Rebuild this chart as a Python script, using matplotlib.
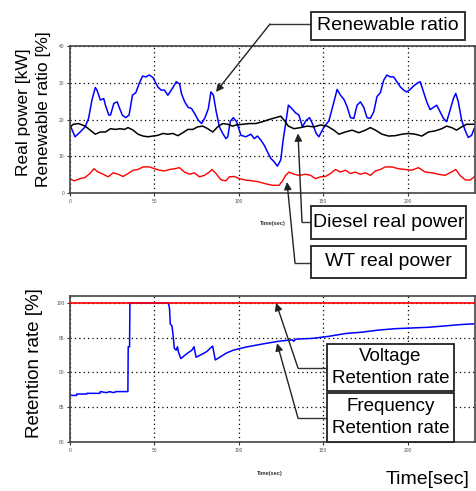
import matplotlib
matplotlib.use("Agg")
import matplotlib.pyplot as plt
from matplotlib.patches import Rectangle
from matplotlib.lines import Line2D

plt.rcParams['font.family'] = ['Liberation Sans', 'DejaVu Sans']

W, H = 476, 491

# top chart: renewable ratio (blue), diesel power (black), WT power (red)
ren_t = [0, 3, 6, 9, 11, 13, 15, 16, 18, 20, 21, 23, 24, 26, 28, 29, 31, 33, 35, 37,
         39, 41, 43, 45, 47, 49, 50, 52, 54, 56, 58, 60, 61, 63, 65, 66, 68, 70, 72, 74,
         76, 78, 80, 82, 83.5, 85, 86.5, 88.5, 90.5, 92.4, 93.5, 95, 96.8, 98.7, 101.3,
         104.2, 107.2, 109.2, 111.1, 113.1, 115.1, 117, 119, 121, 122.9, 124.9, 126.3,
         127.8, 129.4, 131.4, 133.7, 135.7, 137.7, 140, 142, 144, 145.9, 147.5, 149.5,
         151.4, 153.4, 156.4, 158.3, 160.3, 162.3, 164.2, 166.2, 168.2, 170.1, 172.1,
         174.1, 176, 178, 180, 181.9, 183.9, 185.9, 187.8, 189.8, 191.8, 193.7, 195.7,
         197.7, 199.6, 201.6, 203.6, 205.5, 207.5, 209.5, 211.4, 213.4, 215.4, 217.3,
         219.3, 221.3, 223.2, 225.2, 227.2, 228.6, 230.1, 232.1, 234.1, 236, 238, 239.5]
ren_v = [18.5, 15.3, 16.6, 18, 20.3, 25.3, 28.7, 28, 25.3, 25.7, 23.9, 21.2, 21.2, 24.4,
         24.8, 23.5, 21.2, 20.5, 21.2, 26.6, 27.3, 29.8, 31.8, 31.6, 32.1, 31.5, 30.7,
         28.9, 28, 28, 26.6, 28, 28.7, 30.3, 29.6, 27.1, 24.8, 23.3, 23, 21.5, 19.8, 18.9,
         20.5, 23, 27.5, 26.6, 22.5, 18, 16.2, 14.8, 15.3, 19.5, 20.5, 19.4, 15.7, 15.3,
         16, 14.8, 15.5, 14.4, 13, 11.2, 9.4, 8.5, 7.3, 9, 14.4, 18.9, 23.9, 23, 21.8,
         21.2, 18, 19.8, 20.5, 18.5, 16.2, 15.3, 17.1, 18.5, 19.6, 24.8, 28.2, 26.6, 25.5,
         23.5, 20.5, 20.3, 23.9, 24.8, 23.3, 20.5, 20.3, 22.1, 26.2, 27.3, 30.7, 32.1,
         31.6, 31.6, 30.3, 28.9, 28, 27.5, 28.2, 29.1, 29.8, 30.3, 27.5, 24.8, 22.7, 23.3,
         23.9, 22.1, 20.3, 19.4, 22.5, 25.7, 27.1, 24.8, 19.8, 17.1, 15.1, 15.7, 17.5]

die_t = [0, 2, 5, 9, 12, 15, 18, 21, 24, 27, 29.5, 32.4, 34.4, 37.4, 40.3, 43.3, 46.2,
         49.2, 52.1, 55.1, 58, 61, 63.9, 66.9, 69.8, 72.8, 75.7, 78.7, 81.6, 84.6, 87.5,
         90.5, 93.4, 96.4, 98.3, 102.3, 106.2, 110.1, 114.1, 118, 121.9, 124.9, 126.9,
         129.4, 132.8, 136.7, 140.6, 144.6, 148.5, 152.4, 156.4, 159.3, 163.2, 167.2,
         171.1, 175.1, 178, 181, 184.9, 188.8, 192.8, 196.7, 200.6, 204.6, 208.5, 212.4,
         216.4, 220.3, 223.2, 226.2, 229.1, 232.1, 235, 239.5]
die_v = [18, 18.7, 18.9, 18.2, 17.1, 16, 16.6, 16.6, 17.5, 17.3, 17.5, 17.3, 17.8, 17.1,
         16, 15.5, 15.3, 15.5, 15.7, 16.2, 16, 16.2, 15.6, 16.4, 17.3, 17.3, 18, 18.2,
         17.5, 16.6, 18, 18.9, 18.7, 18.2, 18.5, 18.7, 18.9, 18.9, 19.4, 20, 20.5, 20.9,
         19.8, 18.2, 17.5, 17.8, 18.2, 18, 18.5, 18.2, 17.1, 16, 16.6, 17.1, 16.4, 17.1,
         17.8, 17.1, 16, 15.5, 15.6, 16, 16.2, 16, 15.5, 16.6, 16.9, 17.5, 18.2, 17.8,
         17.1, 18, 18.7, 18.7]

wt_t = [0, 2.4, 5.9, 8.8, 11.8, 14.2, 16.7, 19.7, 22.6, 25.6, 28.5, 31.5, 34.4, 37.4,
        40.3, 43.3, 47.2, 50.1, 53.1, 56, 59, 61.9, 64.9, 67.8, 70.8, 73.7, 76.7, 79.6,
        82.6, 84.1, 86.5, 89.4, 92.4, 94.4, 97.4, 100.3, 104.2, 108.2, 112.1, 116, 120,
        123.9, 125.9, 127.8, 129.8, 132.8, 135.7, 139.6, 142.6, 145.5, 148.5, 151.4,
        154.4, 157.3, 160.3, 163.2, 166.2, 169.1, 172.1, 175.1, 178, 181, 183.9, 186.9,
        190.8, 194.7, 198.7, 202.6, 206.5, 210.4, 214.4, 218.3, 222.2, 225.2, 228.6,
        231.1, 234.1, 237, 239.6]
wt_v = [3.9, 3.3, 3.9, 4.2, 5.3, 6.6, 5.7, 5.1, 4.4, 5.5, 5.1, 4.5, 5.3, 6.2, 6.4, 7.1,
        7.1, 6.6, 6.2, 6, 6.4, 6.6, 6.9, 5.7, 5.1, 5.5, 4.4, 4.8, 5.7, 6.4, 5.3, 3.6, 3.3,
        4.4, 4.5, 3.9, 3.5, 3.3, 3, 2.5, 2.1, 2.1, 3.3, 4.8, 5.7, 5.1, 4.8, 5.1, 4.8, 3.9,
        4.4, 4.5, 5.3, 6.4, 5.7, 6.2, 5.3, 5.7, 5.1, 5.5, 4.8, 6, 6.4, 7.1, 7.1, 6.6, 6.4,
        6.2, 6.9, 5.7, 5.5, 5.1, 4.8, 5.5, 6.4, 4.8, 3.6, 3.5, 4.4]

# bottom chart: voltage (red) and frequency (blue) retention rate
volt_t = [0, 240]
volt_v = [100, 100]
freq_t = [0, 3.9, 4, 9.8, 10, 17.7, 18, 21.6, 23.6, 25.5, 27.5, 34.3, 34.5, 35.3, 35.5,
          58.4, 59, 59.4, 60.4, 61, 61.8, 62.9, 63.7, 64.3, 65.7, 69.2, 72.2, 73.5, 74.7,
          78, 81, 84.5, 86.1, 88.8, 92.7, 96.7, 100, 104.2, 114.1, 123.9, 131.8, 132.5,
          134, 143.6, 153.4, 163.2, 173.1, 182.9, 192.8, 202.6, 212.4, 222.3, 232.1, 240]
freq_v = [86.7, 86.7, 86.9, 86.9, 87.0, 87.0, 87.25, 87.1, 87.25, 87.1, 87.25, 87.25,
          93.7, 93.7, 100, 100, 99.1, 97, 96.7, 95.6, 93.5, 93.2, 93.7, 92.9, 92, 92.7,
          93.2, 93.7, 92.2, 92.6, 93, 93.8, 91.8, 92.2, 92.8, 93.2, 93.4, 93.65, 94.1,
          94.5, 94.7, 94.5, 94.8, 94.9, 95.2, 95.6, 95.8, 96.1, 96.3, 96.4, 96.5, 96.7,
          96.9, 97]

top_yticks = [0, 10, 20, 30, 40]
bot_yticks = [80, 85, 90, 95, 100]
xticks = [0, 50, 100, 150, 200]


def fx(x):
    return x / W


def fy(y):
    return 1 - y / H


fig = plt.figure(figsize=(W / 100, H / 100), dpi=100)
ax1 = fig.add_axes([fx(70), fy(193), (475 - 70) / W, (193 - 46) / H])
ax2 = fig.add_axes([fx(70), fy(442), (475 - 70) / W, (442 - 296) / H])

ax1.plot(ren_t, ren_v, color='#0000ff', lw=1.1)
ax1.plot(die_t, die_v, color='black', lw=1.1)
ax1.plot(wt_t, wt_v, color='#ff0000', lw=1.0)
ax1.set_ylim(0, 40)
ax1.set_yticks(top_yticks)

ax2.plot(volt_t, volt_v, color='#ff0000', lw=1.2, zorder=3)
ax2.plot(freq_t, freq_v, color='#0000ff', lw=1.1)
ax2.set_ylim(80, 101)
ax2.set_yticks(bot_yticks)

for ax in (ax1, ax2):
    ax.set_xlim(0, 240)
    ax.set_xticks(xticks)
    ax.grid(True, color='black', linestyle=(0, (1, 2.5)), lw=0.9)
    ax.tick_params(labelsize=3.5, labelcolor='#555555', length=2.5, width=0.8,
                   pad=1.5, colors='#333333')
    for s in ax.spines.values():
        s.set_color('#444444')
        s.set_linewidth(1.2)

# axis titles
fig.text(fx(24), fy(112), 'Real power [kW]', rotation=90, ha='center', va='center',
         fontsize=12.5)
fig.text(fx(44), fy(109), 'Renewable ratio [%]', rotation=90, ha='center',
         va='center', fontsize=12.5)
fig.text(fx(35), fy(363), 'Retention rate [%]', rotation=90, ha='center',
         va='center', fontsize=13.5)
fig.text(fx(273), fy(224), 'Time(sec)', ha='center', va='center', fontsize=4,
         fontweight='bold', color='#333333')
fig.text(fx(270), fy(473), 'Time(sec)', ha='center', va='center', fontsize=4,
         fontweight='bold', color='#333333')
fig.text(fx(428), fy(479), 'Time[sec]', ha='center', va='center', fontsize=14)


def callout(ax, lines, box, elbow, tip, fs):
    x0, y0, x1, y1 = box
    fig.add_artist(Rectangle((fx(x0), fy(y1)), (x1 - x0) / W, (y1 - y0) / H,
                             transform=fig.transFigure, facecolor='white',
                             edgecolor='#222222', lw=1.3, zorder=5))
    fig.text(fx((x0 + x1) / 2), fy((y0 + y1) / 2), lines, ha='center',
             va='center', fontsize=fs, linespacing=1.35, zorder=6)
    ey = elbow[1]
    fig.add_artist(Line2D([fx(x0), fx(elbow[0])], [fy(ey), fy(ey)],
                          transform=fig.transFigure, color='#333333', lw=1.0,
                          zorder=4))
    ax.annotate('', xy=tip, xycoords='data',
                xytext=(elbow[0], H - ey), textcoords='figure pixels',
                annotation_clip=False, zorder=4,
                arrowprops=dict(arrowstyle='-|>', color='#222222', lw=1.0,
                                mutation_scale=11, shrinkA=0, shrinkB=0))


callout(ax1, 'Renewable ratio', (311, 12, 465, 40), (270, 24), (86.5, 27.5), 14)
callout(ax1, 'Diesel real power', (311, 206, 466, 239), (302, 222), (135.1, 16.2), 14)
callout(ax1, 'WT real power', (311, 246, 466, 278), (295, 263), (128.6, 3.0), 14)
callout(ax2, 'Voltage\nRetention rate', (327, 344, 454, 391), (298, 368),
        (122.1, 100), 13.5)
callout(ax2, 'Frequency\nRetention rate', (327, 393, 454, 442), (298, 418),
        (122.7, 94.2), 13.5)

fig.savefig('out.png', dpi=100)
